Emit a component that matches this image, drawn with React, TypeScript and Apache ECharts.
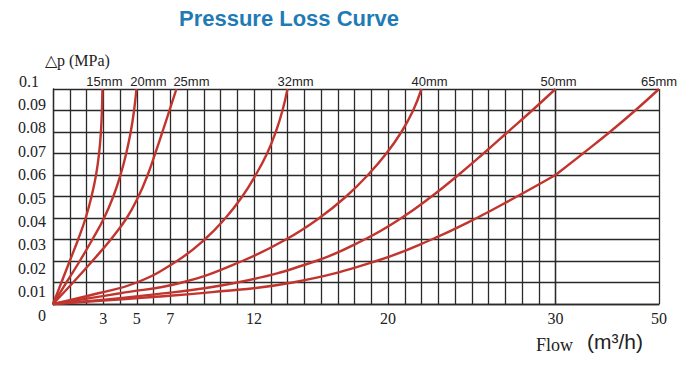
import React, { useEffect, useRef } from "react";
import * as echarts from "echarts";

// Pressure loss curves: [flow m3/h, pressure loss MPa]
const s15: number[][] = [[0, 0], [0.5, 0.01], [1.0, 0.02], [1.5, 0.03], [1.95, 0.04], [2.3, 0.05], [2.57, 0.06], [2.75, 0.07], [2.86, 0.08], [2.92, 0.09], [2.95, 0.1]];
const s20: number[][] = [[0, 0], [0.8, 0.01], [1.6, 0.02], [2.35, 0.03], [3.05, 0.04], [3.6, 0.05], [4.03, 0.06], [4.37, 0.07], [4.64, 0.08], [4.84, 0.09], [4.98, 0.1]];
const s25: number[][] = [[0, 0], [1.2, 0.01], [2.35, 0.02], [3.45, 0.03], [4.4, 0.04], [5.1, 0.05], [5.65, 0.06], [6.1, 0.07], [6.53, 0.08], [6.95, 0.09], [7.37, 0.1]];
const s32: number[][] = [[0, 0], [2.7, 0.005], [5.0, 0.01], [7.4, 0.02], [9.05, 0.03], [10.3, 0.04], [11.3, 0.05], [12.1, 0.06], [12.78, 0.07], [13.3, 0.08], [13.7, 0.09], [14.0, 0.1]];
const s40: number[][] = [[0, 0], [4.0, 0.005], [7.7, 0.01], [11.3, 0.02], [13.9, 0.03], [15.9, 0.04], [17.5, 0.05], [18.8, 0.06], [19.9, 0.07], [20.8, 0.08], [21.5, 0.09], [22.0, 0.1]];
const s50: number[][] = [[0, 0], [5.5, 0.004], [11.0, 0.01], [15.7, 0.02], [18.6, 0.03], [20.8, 0.04], [22.6, 0.05], [24.2, 0.06], [25.7, 0.07], [27.15, 0.08], [28.6, 0.09], [30, 0.1]];
const s65: number[][] = [[0, 0], [5.5, 0.003], [9.5, 0.0055], [14.3, 0.01], [19.3, 0.02], [22.6, 0.03], [25.3, 0.04], [27.7, 0.05], [30, 0.06], [35.3, 0.07], [40.5, 0.08], [45.4, 0.09], [50, 0.1]];

const seriesNames = ["15mm", "20mm", "25mm", "32mm", "40mm", "50mm", "65mm"];
const seriesData = [s15, s20, s25, s32, s40, s50, s65];

const xTickLabels = [3, 5, 7, 12, 20, 30];
const xTickLabelsRight = [50];
const yTickLabels = ["0", "0.01", "0.02", "0.03", "0.04", "0.05", "0.06", "0.07", "0.08", "0.09", "0.1"];

const BREAK = 30;

export default function App() {
  const ref = useRef<HTMLDivElement>(null);
  useEffect(() => {
    document.body.style.margin = "0";
    const chart = echarts.init(ref.current!, undefined, { renderer: "svg" });
    const red = "#c2352e";
    const gridLine = { show: true, lineStyle: { color: "#2a2a2a", width: 1.3 } };
    const labelOffsets = [2, 12, 15, 8, 8, 3, 0];

    const series: any[] = [];
    seriesData.forEach((d, i) => {
      const left = d.filter((p) => p[0] <= BREAK);
      const right = d.filter((p) => p[0] >= BREAK);
      const hasRight = right.length > 1;
      const mkLabel = (arr: number[][]) =>
        arr.map((p, j) =>
          j === arr.length - 1
            ? {
                value: p,
                label: {
                  show: true,
                  position: "top",
                  distance: 1,
                  offset: [labelOffsets[i], 0],
                  formatter: seriesNames[i],
                  color: "#222",
                  fontSize: 13,
                  fontFamily: "Liberation Sans, Arial, sans-serif",
                },
              }
            : p
        );
      const base = {
        type: "line",
        smooth: 0.45,
        showSymbol: true,
        symbol: "circle",
        symbolSize: 0,
        lineStyle: { color: red, width: 2.4 },
        itemStyle: { color: red },
        clip: false,
        silent: true,
      };
      series.push({
        ...base,
        name: seriesNames[i],
        xAxisIndex: 0,
        yAxisIndex: 0,
        data: hasRight ? left : mkLabel(left),
      });
      if (hasRight) {
        series.push({
          ...base,
          name: seriesNames[i] + " ",
          xAxisIndex: 1,
          yAxisIndex: 1,
          data: mkLabel(right),
        });
      }
    });

    const serifFont = "Liberation Serif, Times New Roman, serif";

    chart.setOption({
      animation: false,
      backgroundColor: "#ffffff",
      grid: [
        { left: 53, top: 89, width: 502.5, height: 215 },
        { left: 555.5, top: 89, width: 103.5, height: 215 },
        { left: 53, top: 81, width: 10, height: 234 },
      ],
      xAxis: [
        {
          gridIndex: 0,
          type: "value",
          min: 0,
          max: 30,
          interval: 1,
          axisLine: { show: true, lineStyle: { color: "#2a2a2a", width: 1.3 } },
          axisTick: { show: false },
          splitLine: gridLine,
          axisLabel: {
            showMinLabel: true,
            showMaxLabel: true,
            margin: 6,
            color: "#222",
            fontSize: 16,
            fontFamily: serifFont,
            formatter: (v: number) => (xTickLabels.includes(Math.round(v)) ? String(Math.round(v)) : ""),
          },
        },
        {
          gridIndex: 1,
          type: "value",
          min: 30,
          max: 50,
          interval: 20,
          axisLine: { show: true, lineStyle: { color: "#2a2a2a", width: 1.3 } },
          axisTick: { show: false },
          splitLine: gridLine,
          axisLabel: {
            showMinLabel: true,
            showMaxLabel: true,
            margin: 6,
            color: "#222",
            fontSize: 16,
            fontFamily: serifFont,
            formatter: (v: number) => (xTickLabelsRight.includes(Math.round(v)) ? String(Math.round(v)) : ""),
          },
        },
        { gridIndex: 2, type: "value", show: false, min: 0, max: 1 },
      ],
      yAxis: [
        {
          gridIndex: 0,
          type: "value",
          min: 0,
          max: 0.1,
          interval: 0.01,
          axisLine: { show: true, lineStyle: { color: "#2a2a2a", width: 1.3 } },
          axisTick: { show: false },
          axisLabel: { show: false },
          splitLine: gridLine,
        },
        {
          gridIndex: 1,
          type: "value",
          min: 0,
          max: 0.1,
          interval: 0.01,
          axisLine: { show: false },
          axisTick: { show: false },
          axisLabel: { show: false },
          splitLine: gridLine,
        },
        {
          gridIndex: 2,
          type: "value",
          min: 0,
          max: 0.1,
          interval: 0.01,
          axisLine: { show: false },
          axisTick: { show: false },
          splitLine: { show: false },
          axisLabel: {
            showMinLabel: true,
            showMaxLabel: true,
            margin: 7,
            color: "#222",
            fontSize: 16,
            fontFamily: serifFont,
            formatter: (_v: number, idx: number) =>
              idx === yTickLabels.length - 1 ? "{a|" + yTickLabels[idx] + "}" : yTickLabels[idx],
            rich: {
              a: { fontSize: 16, fontFamily: serifFont, color: "#222", padding: [0, 7, 0, 0] },
            },
          },
        },
      ],
      graphic: [
        {
          type: "text",
          x: 289,
          y: 18,
          style: {
            text: "Pressure Loss Curve",
            fill: "#1f7bb6",
            fontSize: 22,
            fontWeight: "bold",
            fontFamily: "Liberation Sans, Arial, sans-serif",
            align: "center",
            verticalAlign: "middle",
          },
        },
        {
          type: "text",
          x: 45,
          y: 60,
          style: {
            text: "△p (MPa)",
            fill: "#222",
            fontSize: 16,
            fontFamily: serifFont,
            align: "left",
            verticalAlign: "middle",
          },
        },
        {
          type: "text",
          x: 536,
          y: 345,
          style: {
            text: "Flow",
            fill: "#222",
            fontSize: 18,
            fontFamily: serifFont,
            align: "left",
            verticalAlign: "middle",
          },
        },
        {
          type: "text",
          x: 587,
          y: 341,
          style: {
            text: "(m³/h)",
            fill: "#222",
            fontSize: 21,
            fontFamily: "Liberation Sans, Arial, sans-serif",
            align: "left",
            verticalAlign: "middle",
          },
        },
      ],
      series,
    });
    return () => chart.dispose();
  }, []);
  return <div ref={ref} style={{ width: 684, height: 365 }} />;
}
